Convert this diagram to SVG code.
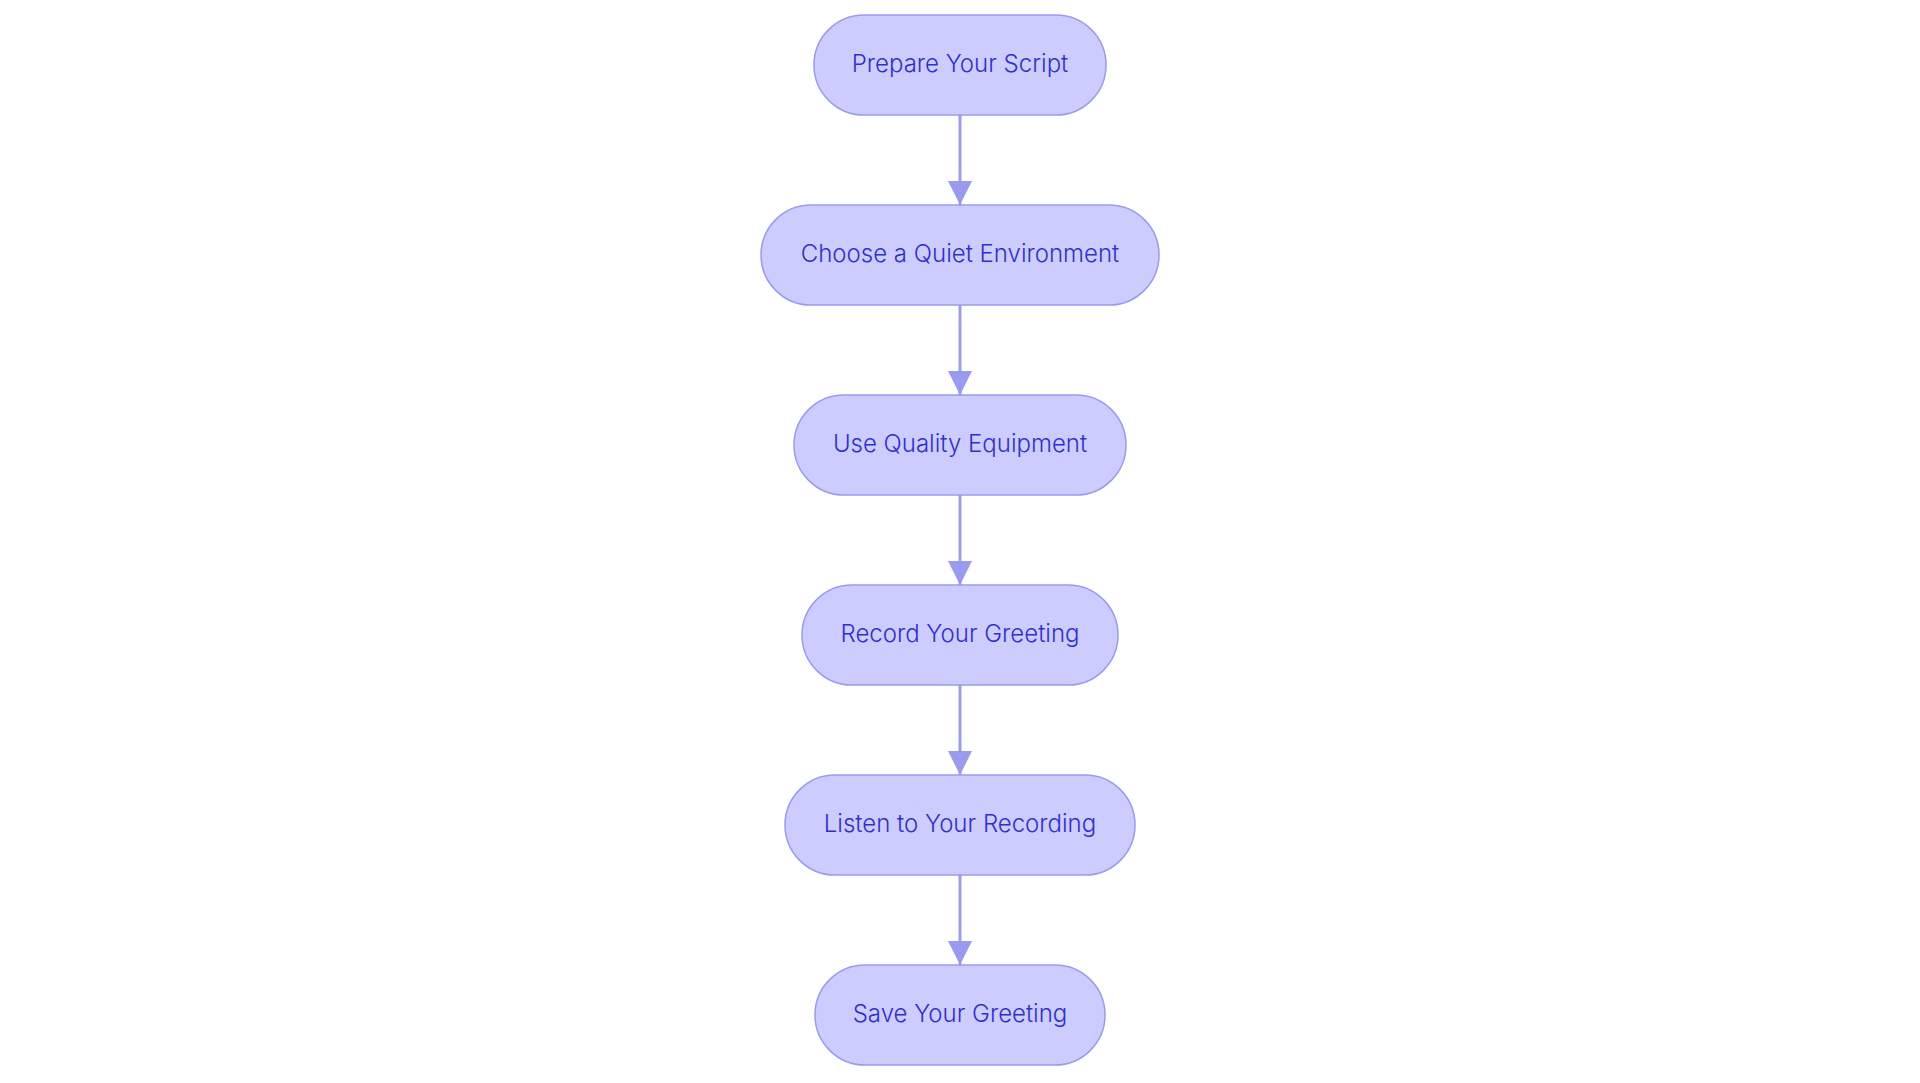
<svg xmlns="http://www.w3.org/2000/svg" width="1920" height="1083" viewBox="0 0 1920 1083">
<style>
.n rect{fill:#ccccff;stroke:#9a9aef;stroke-width:1.5}
.n text{font-family:Inter,"Noto Sans",sans-serif;font-size:24px;font-weight:300;fill:#3030c8;text-anchor:middle;dominant-baseline:central}
.c line{stroke:#9a9aef;stroke-width:3}
</style>
<defs><marker id="b" viewBox="0 0 10 10" refX="10" refY="5" markerWidth="8" markerHeight="8" orient="auto"><path d="M0,0L10,5L0,10z" fill="#9a9aef"/></marker></defs>
<g class="c">
<line x1="960" y1="115" x2="960" y2="205" marker-end="url(#b)"/>
<line x1="960" y1="305" x2="960" y2="395" marker-end="url(#b)"/>
<line x1="960" y1="495" x2="960" y2="585" marker-end="url(#b)"/>
<line x1="960" y1="685" x2="960" y2="775" marker-end="url(#b)"/>
<line x1="960" y1="875" x2="960" y2="965" marker-end="url(#b)"/>
</g>
<g id="n1" class="n"><rect x="814" y="15" width="292" height="100" rx="50"/><text x="960" y="63">Prepare Your Script</text></g>
<g id="n2" class="n"><rect x="761" y="205" width="398" height="100" rx="50"/><text x="960" y="253">Choose a Quiet Environment</text></g>
<g id="n3" class="n"><rect x="794" y="395" width="332" height="100" rx="50"/><text x="960" y="443">Use Quality Equipment</text></g>
<g id="n4" class="n"><rect x="802" y="585" width="316" height="100" rx="50"/><text x="960" y="633">Record Your Greeting</text></g>
<g id="n5" class="n"><rect x="785" y="775" width="350" height="100" rx="50"/><text x="960" y="823">Listen to Your Recording</text></g>
<g id="n6" class="n"><rect x="815" y="965" width="290" height="100" rx="50"/><text x="960" y="1013">Save Your Greeting</text></g>
</svg>
